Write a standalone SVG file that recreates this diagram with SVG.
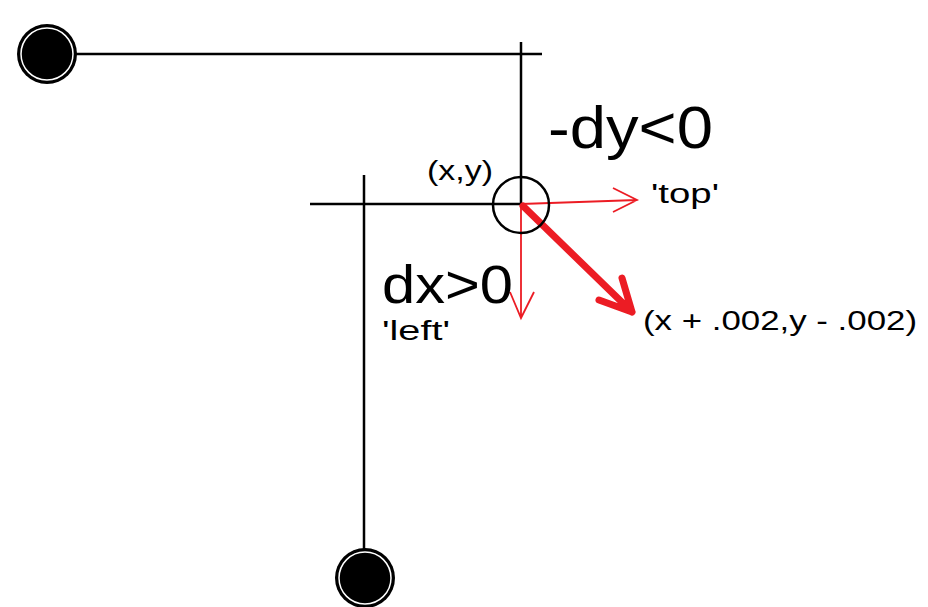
<svg xmlns="http://www.w3.org/2000/svg" width="928" height="607" viewBox="0 0 928 607">
<style>
.ln{stroke:#000;stroke-width:2.5;fill:none}
.red{stroke:#ec1c24;stroke-width:1.8;fill:none}
.redt{stroke:#ec1c24;stroke-width:7;fill:none;stroke-linecap:round;stroke-linejoin:round}
.t{font-family:"Liberation Sans",Arial,sans-serif;fill:#000}
</style>
<rect width="928" height="607" fill="#fff"/>
<g id="connectors">
<line class="ln" x1="60" y1="54" x2="542" y2="54"/>
<line class="ln" x1="521" y1="42" x2="521" y2="204"/>
<line class="ln" x1="310" y1="204" x2="521" y2="204"/>
<line class="ln" x1="364" y1="175" x2="364" y2="560"/>
<path class="red" d="M521 204 L637 200 M613 188 L637 200 L613 212"/>
<path class="red" d="M521 204 L521 318 M510 292 L521 318 L534 292"/>
<path class="redt" d="M523 206 L632 312 M599 300 L632 312 L622 278"/>
</g>
<g id="start">
<circle cx="47" cy="54" r="30" fill="#000"/>
<circle cx="47" cy="54" r="26" fill="none" stroke="#fff" stroke-width="1.5"/>
</g>
<g id="end">
<circle cx="365" cy="578" r="30" fill="#000"/>
<circle cx="365" cy="578" r="26" fill="none" stroke="#fff" stroke-width="1.5"/>
</g>
<g id="point">
<circle cx="521" cy="205" r="28" fill="none" stroke="#000" stroke-width="2.5"/>
</g>
<g id="labels">
<text class="t" x="548" y="148" font-size="60" textLength="165" lengthAdjust="spacingAndGlyphs">-dy&lt;0</text>
<text class="t" x="382" y="303" font-size="54" textLength="131" lengthAdjust="spacingAndGlyphs">dx&gt;0</text>
<text class="t" x="382" y="340" font-size="27" textLength="68" lengthAdjust="spacingAndGlyphs">'left'</text>
<text class="t" x="427" y="180" font-size="27" textLength="66" lengthAdjust="spacingAndGlyphs">(x,y)</text>
<text class="t" x="651" y="203" font-size="27" textLength="68" lengthAdjust="spacingAndGlyphs">'top'</text>
<text class="t" x="643" y="330" font-size="28" textLength="274" lengthAdjust="spacingAndGlyphs">(x + .002,y - .002)</text>
</g>
</svg>
